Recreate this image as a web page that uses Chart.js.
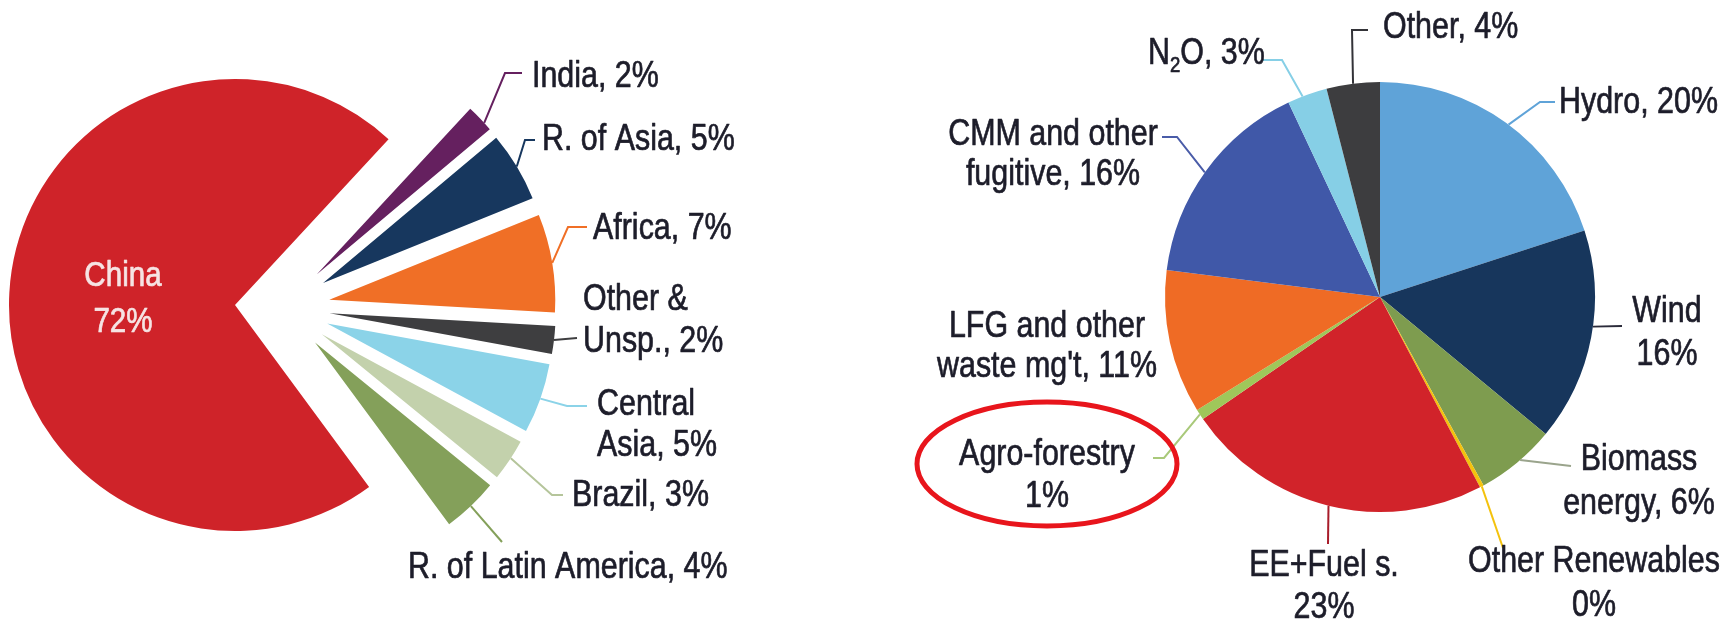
<!DOCTYPE html>
<html>
<head>
<meta charset="utf-8">
<title>Pie charts</title>
<script src="https://cdn.jsdelivr.net/npm/chart.js@4.4.1/dist/chart.umd.min.js"></script>
<style>
  html, body { margin: 0; padding: 0; background: #fff; }
  #wrap { position: relative; width: 1732px; height: 621px; overflow: hidden; }
  .box { position: absolute; top: 0; width: 866px; height: 621px; }
  #leftBox { left: 0; }
  #rightBox { left: 866px; }
</style>
</head>
<body>
<div id="wrap">
  <div class="box" id="leftBox"><canvas id="leftChart"></canvas></div>
  <div class="box" id="rightBox"><canvas id="rightChart"></canvas></div>
</div>
<script>
// Left pie: share by region
const regionNames = ['China', 'India', 'R. of Asia', 'Africa', 'Other & Unsp.', 'Central Asia', 'Brazil', 'R. of Latin America'];
const regionValues = [72, 2, 5, 7, 2, 5, 3, 4];
const regionTags = [
    ['China', '72%'],
    ['India, 2%'],
    ['R. of Asia, 5%'],
    ['Africa, 7%'],
    ['Other &', 'Unsp., 2%'],
    ['Central', 'Asia, 5%'],
    ['Brazil, 3%'],
    ['R. of Latin America, 4%']
];
const regionColors = ['#cf2329', '#65205f', '#17375e', '#f06f26', '#3e3e40', '#8bd3e8', '#c3d1ac', '#84a05a'];

// Right pie: share by project type
const typeNames = ['Hydro', 'Wind', 'Biomass energy', 'Other Renewables', 'EE+Fuel s.', 'Agro-forestry',
    'LFG and other waste mg\'t', 'CMM and other fugitive', 'N2O', 'Other'];
const typeValues = [20, 16, 6, 0.3, 23.1, 0.8, 10.8, 16, 3, 4];
const typeTags = [
    ['Hydro, 20%'],
    ['Wind', '16%'],
    ['Biomass', 'energy, 6%'],
    ['Other Renewables', '0%'],
    ['EE+Fuel s.', '23%'],
    ['Agro-forestry', '1%'],
    ['LFG and other', 'waste mg\'t, 11%'],
    ['CMM and other', 'fugitive, 16%'],
    ['N\u2082O, 3%'],
    ['Other, 4%']
];
const typeColors = ['#5fa3d8', '#17365c', '#7e9c4f', '#f4c20d', '#d1232a', '#9fc75a', '#ef6b25', '#4058a8', '#86cfe6', '#3d3d3f'];

// Text look: condensed face made by squeezing Liberation Sans
const FONT_FAMILY = '"Liberation Sans", Arial, sans-serif';
const NARROW = 0.845;
const TEXT_COLOR = '#1d1d2a';
const TEXT_WEIGHT = 0.7; // thin outline to thicken the strokes a little

// Callout layout (page pixels): leader path after the arc anchor, then text
const leftCallouts = [
    { i: 0, x: 123, y: 276, gap: 46, align: 'center', color: '#f6e4e4', size: 35 },
    { i: 1, t: 0.7, path: [[505, 73], [522, 73]], line: '#65205f', x: 532, y: 77, align: 'left' },
    { i: 2, t: 0.5, path: [[525, 140], [535, 140]], line: '#17375e', x: 542, y: 140, align: 'left' },
    { i: 3, t: 0.5, path: [[568, 227], [587, 227]], line: '#f06f26', x: 593, y: 229, align: 'left' },
    { i: 4, t: 0.5, path: [[577, 338]], line: '#3e3e40', x: 583, y: 300, gap: 42, align: 'left' },
    { i: 5, t: 0.5, path: [[567, 406], [587, 406]], line: '#8bd3e8', x: 597, y: 405, gap: 41, align: 'left' },
    { i: 6, t: 0.45, path: [[552, 495], [563, 495]], line: '#b5c59b', x: 572, y: 496, align: 'left' },
    { i: 7, t: 0.5, path: [[502, 542]], line: '#84a05a', x: 408, y: 568, align: 'left' }
];

const rightCallouts = [
    { i: 0, t: 0.51, path: [[1540, 102], [1555, 102]], line: '#5fa3d8', x: 1559, y: 103, align: 'left' },
    { i: 1, t: 0.45, path: [[1622, 326]], line: '#2b2b3a', x: 1667, y: 312, gap: 43, align: 'center' },
    { i: 2, t: 0.45, path: [[1571, 466]], line: '#9aa48c', x: 1639, y: 460, gap: 44, align: 'center' },
    { i: 3, t: 0.5, path: [[1503, 548]], line: '#f4c20d', x: 1594, y: 562, gap: 44, align: 'center' },
    { i: 4, t: 0.5, path: [[1328, 544]], line: '#a81c2a', x: 1324, y: 566, gap: 42, align: 'center' },
    { i: 5, t: 0.5, path: [[1164, 458], [1153, 458]], line: '#a9c97a', x: 1047, y: 455, gap: 42, align: 'center' },
    { i: 6, x: 1047, y: 327, gap: 40, align: 'center' },
    { i: 7, t: 0.49, path: [[1177, 137], [1162, 137]], line: '#4a5ca8', x: 1053, y: 135, gap: 40, align: 'center' },
    { i: 8, t: 0.38, path: [[1282, 60], [1262, 60]], line: '#86cfe6', x: 1148, y: 54, align: 'left' },
    { i: 9, t: 0.5, path: [[1352, 30], [1368, 30]], line: '#333338', x: 1383, y: 28, align: 'left' }
];

// Red ring drawn round the Agro-forestry label
const highlightRing = { x: 1047, y: 464, rx: 130, ry: 62, color: '#e8151c', width: 5 };

// Exploded group on the left pie (all slices except China)
const leftExplode = { group: [1, 2, 3, 4, 5, 6, 7], groupShift: 47, sliceShift: 48 };

// Width of a string in the squeezed face
function narrowWidth(ctx, text, size) {
    ctx.font = size + 'px ' + FONT_FAMILY;
    return ctx.measureText(text).width * NARROW;
}

// One squeezed run of text at (x, y)
function drawRun(ctx, text, x, y, size, color) {
    ctx.save();
    ctx.font = size + 'px ' + FONT_FAMILY;
    ctx.translate(x, y);
    ctx.scale(NARROW, 1);
    ctx.fillStyle = color;
    ctx.strokeStyle = color;
    ctx.lineWidth = TEXT_WEIGHT;
    ctx.lineJoin = 'round';
    ctx.fillText(text, 0, 0);
    ctx.strokeText(text, 0, 0);
    ctx.restore();
}

// Draw one line of squeezed text; a subscript two is dropped and shrunk
function drawNarrowLine(ctx, text, x, y, align, size, color) {
    const parts = text.split('\u2082');
    const subSize = Math.round(size * 0.6);
    let total = 0;
    parts.forEach((p, k) => {
        total += narrowWidth(ctx, p, size);
        if (k < parts.length - 1) total += narrowWidth(ctx, '2', subSize);
    });
    let left = x;
    if (align === 'center') left = x - total / 2;
    else if (align === 'right') left = x - total;

    ctx.save();
    ctx.textBaseline = 'middle';
    ctx.textAlign = 'left';
    parts.forEach((p, k) => {
        drawRun(ctx, p, left, y, size, color);
        left += narrowWidth(ctx, p, size);
        if (k < parts.length - 1) {
            drawRun(ctx, '2', left, y + size * 0.32, subSize, color);
            left += narrowWidth(ctx, '2', subSize);
        }
    });
    ctx.restore();
}

// Translation of an exploded slice: shared push of the group plus its own push
function explodeShift(arcs, i, spec) {
    if (!spec || !spec.group.includes(i)) return { dx: 0, dy: 0 };
    const first = arcs[spec.group[0]];
    const last = arcs[spec.group[spec.group.length - 1]];
    const gMid = (first.startAngle + last.endAngle) / 2;
    const mid = (arcs[i].startAngle + arcs[i].endAngle) / 2;
    return {
        dx: Math.cos(gMid) * spec.groupShift + Math.cos(mid) * spec.sliceShift,
        dy: Math.sin(gMid) * spec.groupShift + Math.sin(mid) * spec.sliceShift
    };
}

// Plugin: draws the library's arcs, each shifted out of the pie
function makeExplodePlugin(spec) {
    return {
        id: 'explode',
        beforeDatasetDraw(chart, args) {
            const ctx = chart.ctx;
            const arcs = args.meta.data;
            arcs.forEach((arc, i) => {
                const s = explodeShift(arcs, i, spec);
                ctx.save();
                ctx.translate(s.dx, s.dy);
                arc.draw(ctx);
                ctx.restore();
            });
            return false;
        }
    };
}

// Plugin: leader lines from the arcs and the text labels
function makeCalloutPlugin(callouts, tags, originX, spec, ring) {
    return {
        id: 'callouts',
        afterDraw(chart) {
            const ctx = chart.ctx;
            const arcs = chart.getDatasetMeta(0).data;
            ctx.save();
            ctx.translate(-originX, 0);

            callouts.forEach(c => {
                if (c.path) {
                    const arc = arcs[c.i];
                    const s = explodeShift(arcs, c.i, spec);
                    const a = arc.startAngle + c.t * (arc.endAngle - arc.startAngle);
                    const ax = arc.x + originX + s.dx + Math.cos(a) * arc.outerRadius;
                    const ay = arc.y + s.dy + Math.sin(a) * arc.outerRadius;
                    ctx.beginPath();
                    ctx.moveTo(ax, ay);
                    c.path.forEach(p => ctx.lineTo(p[0], p[1]));
                    ctx.strokeStyle = c.line;
                    ctx.lineWidth = 2;
                    ctx.stroke();
                }
                const lines = tags[c.i];
                const gap = c.gap || 42;
                lines.forEach((txt, k) => {
                    drawNarrowLine(ctx, txt, c.x, c.y + k * gap, c.align, c.size || 36, c.color || TEXT_COLOR);
                });
            });

            if (ring) {
                ctx.beginPath();
                ctx.ellipse(ring.x, ring.y, ring.rx, ring.ry, 0, 0, Math.PI * 2);
                ctx.strokeStyle = ring.color;
                ctx.lineWidth = ring.width;
                ctx.stroke();
            }
            ctx.restore();
        }
    };
}

function pieOptions(rotation, radius, padding) {
    return {
        responsive: true,
        maintainAspectRatio: false,
        animation: false,
        events: [],
        rotation: rotation,
        radius: radius,
        layout: { padding: padding },
        plugins: {
            legend: { display: false },
            tooltip: { enabled: false }
        }
    };
}

function initializeCharts() {
    new Chart(document.getElementById('leftChart').getContext('2d'), {
        type: 'pie',
        data: {
            labels: regionNames,
            datasets: [{
                data: regionValues,
                backgroundColor: regionColors,
                borderWidth: 0
            }]
        },
        options: pieOptions(143.6, 226, { left: 0, right: 396, top: 0, bottom: 11 }),
        plugins: [makeExplodePlugin(leftExplode), makeCalloutPlugin(leftCallouts, regionTags, 0, leftExplode, null)]
    });

    new Chart(document.getElementById('rightChart').getContext('2d'), {
        type: 'pie',
        data: {
            labels: typeNames,
            datasets: [{
                data: typeValues,
                backgroundColor: typeColors,
                borderWidth: 0
            }]
        },
        options: pieOptions(0, 215, { left: 162, right: 0, top: 0, bottom: 27 }),
        plugins: [makeCalloutPlugin(rightCallouts, typeTags, 866, null, highlightRing)]
    });
}

document.addEventListener('DOMContentLoaded', initializeCharts);
</script>
</body>
</html>
